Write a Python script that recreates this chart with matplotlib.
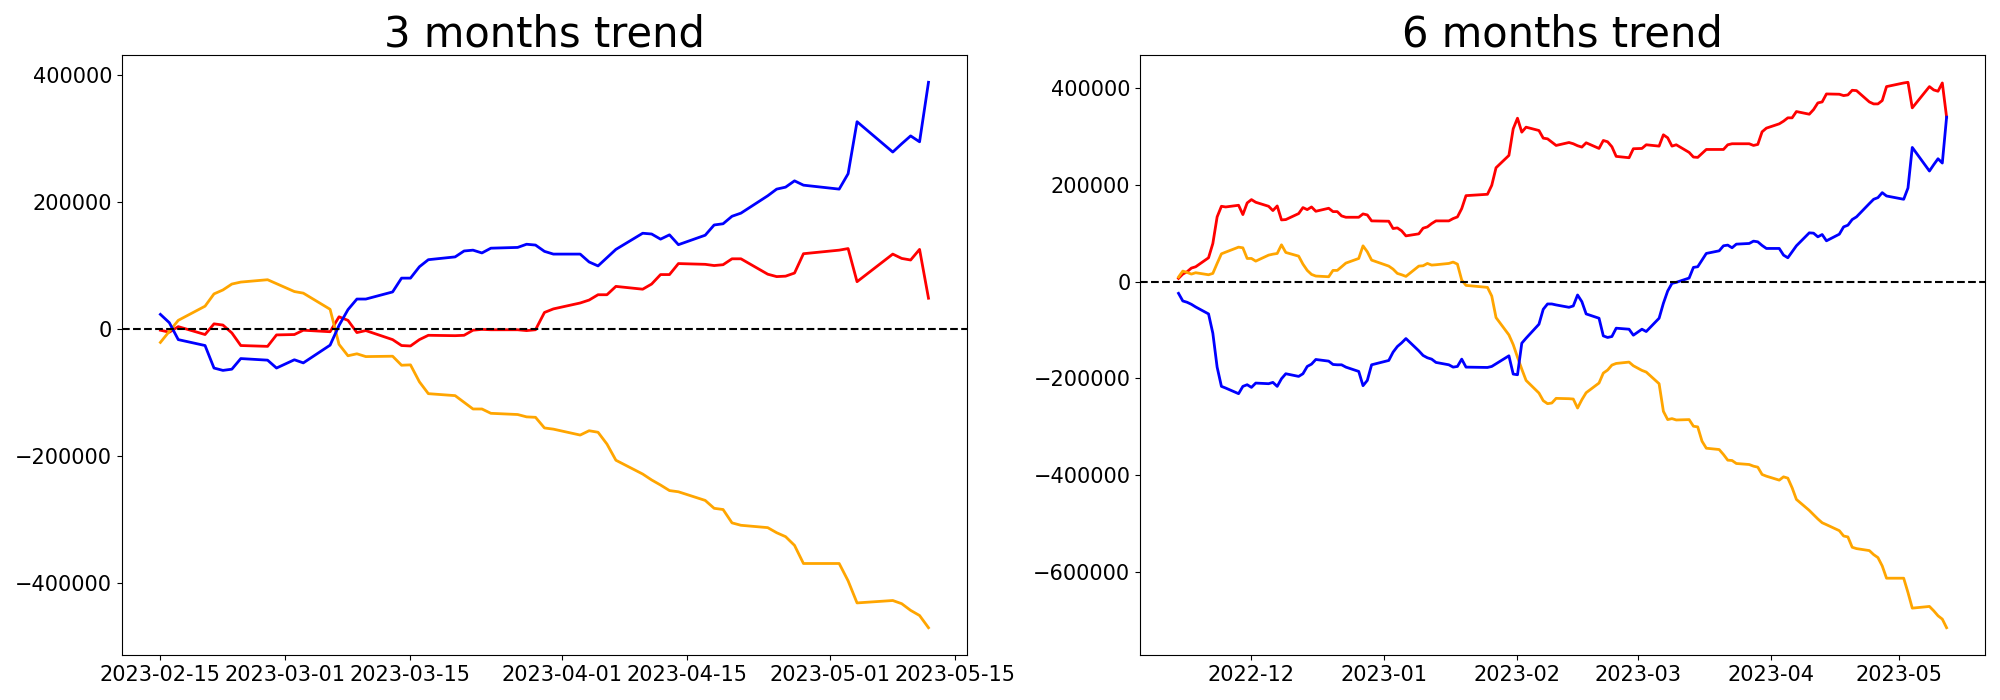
import pandas as pd
import matplotlib.pyplot as plt

# KRX closed days inside the plotted range
KRX_HOLIDAYS = ['2022-12-30', '2023-01-23', '2023-01-24',
                '2023-03-01', '2023-05-01', '2023-05-05']

dates_3m = pd.bdate_range('2023-02-15', '2023-05-12', freq='C', holidays=KRX_HOLIDAYS)
dates_6m = pd.bdate_range('2022-11-14', '2023-05-12', freq='C', holidays=KRX_HOLIDAYS)

# cumulative net buying, 3 months (feb | mar | apr | may)
blue_3m = [23000, 9900, -16700, -26000, -61400, -65100, -63200, -46500, -49000, -61400,
           -48400, -53300, -25400, 5600, 30400, 47100, 47100, 58300, 80000, 80000, 97900,
           109000, 113400, 122700, 124000, 119600, 127100, 128300, 133300, 132000, 122100, 117800,
           117800, 105400, 99200, 112200, 125200, 150600, 149400, 141300, 148100, 132600,
           147500, 163600, 165500, 177300, 182200, 209500, 220000, 223100, 233000, 226200,
           220000, 244200, 326000, 278300, 291300, 303700, 294400, 388000]
red_3m = [-1900, -5000, 3700, -8700, 8100, 6200, -6200, -26000, -27300, -9300,
          -8700, -1900, -4300, 19200, 13600, -5600, -2500, -16700, -26000, -26700, -16700,
          -9900, -10500, -9900, -1900, -600, -1200, -1200, -2500, -1200, 26000, 31600,
          40900, 45500, 53900, 53900, 67000, 62600, 70700, 85600, 85600, 102900,
          101700, 99800, 101100, 110400, 110400, 86200, 82400, 83100, 88000, 118400,
          124000, 126500, 74400, 117800, 111000, 108500, 125200, 48400]
orange_3m = [-21100, -3700, 13600, 35900, 55200, 61400, 70700, 73800, 77500, 71300,
             58900, 56400, 31000, -24200, -42100, -39000, -43400, -42800, -57000, -56400, -83100,
             -101700, -104800, -115300, -125800, -125800, -132600, -134500, -138200, -138900,
             -155600, -157500,
             -166800, -160000, -162400, -181000, -206400, -228100, -237400, -245400, -254100,
             -256000, -269600, -282000, -283900, -304900, -308700, -312400, -320400, -326600,
             -340300, -368800,
             -368800, -396100, -430800, -427000, -432000, -442500, -450600, -469800]

# cumulative net buying, 6 months (nov | dec | jan | feb | mar | apr | may)
blue_6m = [-24000, -39800, -42500, -46700, -52200, -66600, -106500, -176600, -216400, -219900,
           -231500, -216400, -213000,
           -218500, -209600, -210900, -208200, -216400, -200600, -190300, -195800, -190300,
           -175200, -170400, -160800, -164200, -171100, -171800, -171800, -176600, -185500,
           -215000, -204100, -171800,
           -162800, -145700, -134000, -126400, -117500, -142900, -152500, -157300, -160100,
           -166900, -171800, -176600, -175200, -160100, -176600, -177300, -175200, -169700,
           -153200, -191000,
           -192400, -127100, -116800, -87900, -57000, -46000, -46000, -48000, -52900, -50100,
           -27400, -41200, -66600, -75500, -112000, -115300, -113300, -96100, -98200, -110600,
           -98200, -103000, -75500, -44600, -19200, -3400, -1300, 7600, 29600, 31000, 44700,
           58500, 63900, 74300, 75700, 70200, 77700, 79100, 83900, 82500, 75000, 68800,
           68800, 55000, 49500, 61900, 74300, 101100, 100400, 92800, 97600, 84600, 98300,
           113400, 116900, 128600, 134100, 161600, 170500, 173900, 184200, 177300,
           170500, 193800, 277700, 228900, 242000, 254300, 245400, 340300]
red_6m = [6900, 15800, 20600, 28200, 30900, 49500, 79000, 134000, 156000, 154600,
          158100, 138800, 162900,
          169800, 164300, 156000, 147100, 156700, 127800, 128500, 140900, 153300, 149100,
          154600, 145700, 151900, 145000, 145000, 136100, 133300, 133300, 140200, 138100, 125800,
          125100, 110000, 111300, 105200, 94800, 99000, 110700, 113400, 120300, 125800,
          125800, 130600, 134000, 151200, 178000, 180800, 199300, 235700, 261200, 316200,
          338100, 309300, 319600, 312700, 296900, 295500, 288700, 281800, 287900, 285300,
          281200, 278400, 287300, 275600, 292100, 289400, 279100, 259200, 256400, 275000,
          275600, 283200, 280400, 303800, 297600, 280400, 283200, 267400, 257800, 257100,
          265300, 273500, 273500, 273500, 283200, 285300, 285300, 285300, 281800, 283900,
          310000, 317600,
          326500, 332000, 338900, 338900, 351900, 346400, 356000, 369800, 371800, 388300,
          387700, 384900, 386300, 395900, 395200, 371800, 367700, 367700, 374600, 403500,
          411000, 412400, 359500, 403500, 396600, 393900, 411000, 340300]
orange_6m = [9600, 22000, 19200, 15800, 18600, 14400, 17200, 37800, 57700, 61200,
             71500, 70100, 48100,
             48100, 42600, 55000, 57000, 58400, 76300, 60500, 52900, 36400, 23400, 15100,
             11700, 10300, 23400, 23400, 30900, 38500, 48100, 74200, 61900, 44700,
             32300, 26100, 17200, 14400, 11000, 32300, 33000, 37800, 34400, 35100, 37800,
             40600, 36400, 3400, -7600, -11700, -29600, -74200, -110000, -130000,
             -156000, -180800, -204100, -230200, -246000, -252200, -250800, -241200, -241900,
             -242600, -261200, -244000, -229500, -209500, -188900, -182700, -172400, -169000,
             -166200, -173800,
             -183400, -186800, -210900, -268000, -285100, -283100, -285900, -285100, -298800,
             -300200, -329800, -344300, -347000, -357300, -369000, -369700, -375900, -378000,
             -381400, -383500, -398600, -402100,
             -410300, -403500, -406200, -426100, -450200, -472900, -481800, -490600, -498400,
             -502400, -514800, -525800, -527800, -549100, -551900, -556000, -564300, -570500,
             -587700, -613100,
             -613100, -642700, -675000, -671500, -680500, -690800, -697700, -715500]

fig, axes = plt.subplots(1, 2, figsize=(20, 7), dpi=100)
fig.subplots_adjust(left=0.061, right=0.9925, bottom=0.0643, top=0.9214, wspace=0.205)

panels = [
    (axes[0], dates_3m, blue_3m, red_3m, orange_3m, '3 months trend'),
    (axes[1], dates_6m, blue_6m, red_6m, orange_6m, '6 months trend'),
]

for ax, dates, blue, red, orange, title in panels:
    ax.plot(dates, red, color='red', lw=2)
    ax.plot(dates, orange, color='orange', lw=2)
    ax.plot(dates, blue, color='blue', lw=2)
    ax.axhline(0, color='black', ls='--', lw=1.5)
    ax.set_title(title, fontsize=30)
    ax.tick_params(labelsize=15)

plt.savefig('out.png')
